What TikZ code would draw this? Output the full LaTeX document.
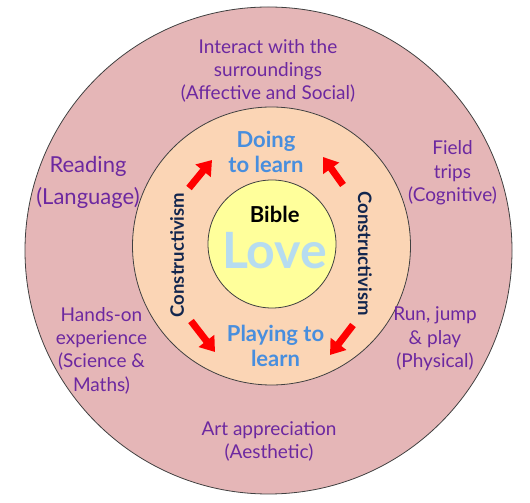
\documentclass[tikz,border=0pt]{standalone}
\usepackage{fontspec}
\setmainfont{Lato}
\usepackage{xcolor}
\usepackage{tikz}
\usetikzlibrary{arrows.meta,positioning}
\definecolor{ringOuter}{RGB}{229,182,183}
\definecolor{ringMid}{RGB}{251,213,181}
\definecolor{ringCore}{RGB}{255,255,155}
\definecolor{areaPurple}{RGB}{108,40,160}
\definecolor{learnBlue}{RGB}{72,142,222}
\definecolor{loveBlue}{RGB}{182,220,240}
\definecolor{navyText}{RGB}{18,38,78}

\begin{document}
\begin{tikzpicture}[x=1pt,y=1pt,
ring/.style={draw=black!75,line width=0.8pt},
area/.style={align=center,text=areaPurple,font=\fontsize{19}{23.3}\selectfont},
learn/.style={align=center,text=learnBlue,font=\fontsize{22}{25}\selectfont\bfseries},
theory/.style={text=navyText,font=\fontsize{18.5}{20}\selectfont\bfseries},
arr/.style={-{Triangle[length=14pt,width=19pt]},line width=7pt,red}
]
\useasboundingbox (0,0) rectangle (530,503);
% rings
\draw[ring,fill=ringOuter] (268.5,252.5) circle (243.5);
\draw[ring,fill=ringMid] (271.5,257) circle (139);
\draw[ring,fill=ringCore] (272,259) circle (64);
% outer ring areas
\node[area] (social) at (268,432) {Interact with the\\surroundings\\(Affective and Social)};
\node[area,font=\fontsize{22}{32}\selectfont] (lang) at (88,321) {Reading\\(Language)};
\node[area] (cogn) at (452.5,330) {Field\\trips\\(Cognitive)};
\node[area] (sci) at (101.5,152.5) {Hands-on\\experience\\(Science \&\\Maths)};
\node[area] (phys) at (435,164) {Run, jump\\\& play\\(Physical)};
\node[area] (aest) at (269,61.5) {Art appreciation\\(Aesthetic)};
% middle ring
\node[learn] (doing) at (266,351) {Doing\\to learn};
\node[learn] (playing) at (275.5,157) {Playing to\\learn};
\node[theory,rotate=90] (consL) at (177,248) {Constructivism};
\node[theory,rotate=-90] (consR) at (365,249.5) {Constructivism};
% core
\node[inner sep=0pt,anchor=base,font=\fontsize{22}{24}\selectfont\bfseries] (bible) at (274.7,280) {Bible};
\node[inner sep=0pt,anchor=base,text=loveBlue,font=\fontsize{50}{52}\selectfont\bfseries] (love) at (274.5,234) {Love};
% arrows
\coordinate (ulA) at (189,315); \coordinate (ulB) at (212,343);
\coordinate (urA) at (343,318); \coordinate (urB) at (323,346);
\coordinate (llA) at (191,182); \coordinate (llB) at (215,151);
\coordinate (lrA) at (353,178); \coordinate (lrB) at (330,148);
\foreach \x/\y in {ulA/ulB,urA/urB,llA/llB,lrA/lrB}
\draw[arr] (\x) -- (\y);
\end{tikzpicture}
\end{document}
